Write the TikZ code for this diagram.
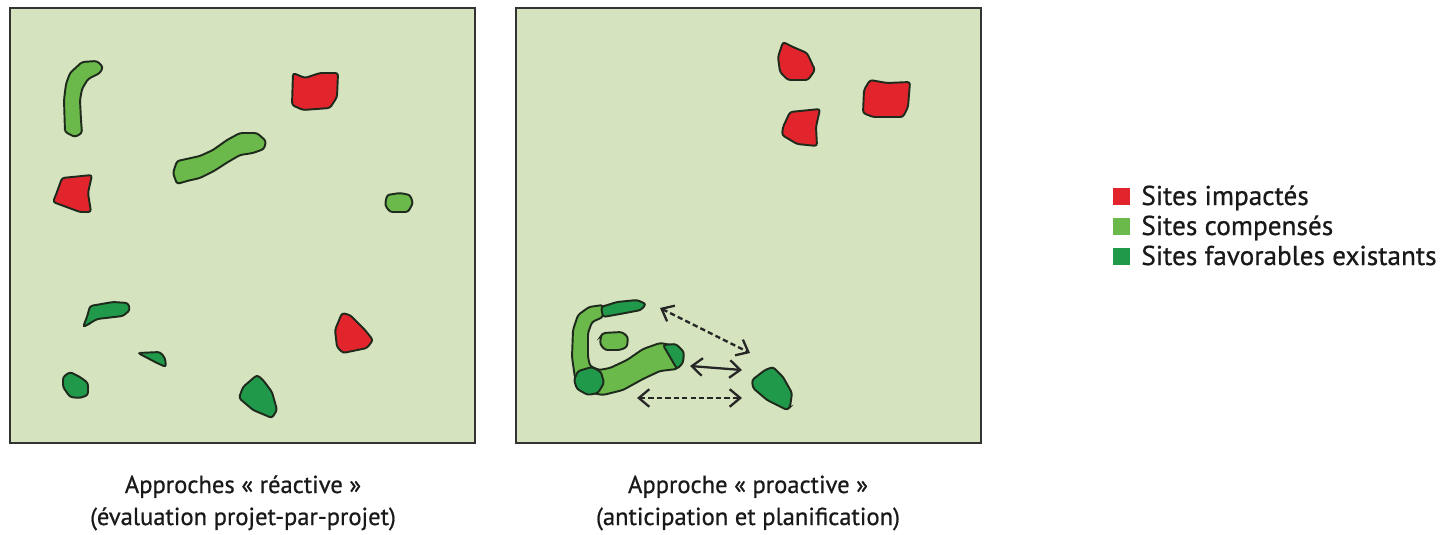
\documentclass[tikz,border=0pt]{standalone}
\usepackage{fontspec}
\setmainfont{PT Sans}
\newfontfamily\textefont{PT Sans}[FakeBold=0.7]
\usetikzlibrary{arrows.meta}

\definecolor{fond}{HTML}{D5E3BF}
\definecolor{rouge}{HTML}{E2252D}
\definecolor{vertclair}{HTML}{6CB94B}
\definecolor{vertfonce}{HTML}{21994A}
\definecolor{trait}{HTML}{1E2A1C}

\tikzset{
    panneau/.style={fill=fond, draw=black!80, line width=1.5pt},
    site/.style={draw=trait, line width=1.1pt, rounded corners=1.5pt},
    impact/.style={site, fill=rouge},
    compens/.style={site, fill=vertclair},
    favor/.style={site, fill=vertfonce},
    lien/.style={<->, >={Straight Barb[length=6pt,width=10pt]}, line width=1.3pt, black!85},
    legende/.style={anchor=base west, inner sep=0pt, font=\textefont\fontsize{15.5}{17}\selectfont, text=black!90},
    titre/.style={anchor=base, inner sep=0pt, font=\textefont\fontsize{14}{17}\selectfont, text=black!90},
}

\newcommand{\liens}{
    \coordinate (a1) at (660,308);
    \coordinate (b1) at (750,353);
    \coordinate (a2) at (690,366);
    \coordinate (b2) at (742,370);
    \coordinate (a3) at (637,398);
    \coordinate (b3) at (742,398);
}

\begin{document}
\begin{tikzpicture}[x=0.02cm, y=-0.02cm]
    \useasboundingbox (0,0) rectangle (1443,534);

    % approche reactive
    \draw[panneau] (10,8) rectangle (475,443);
    \draw[compens] (82,62) -- (97,61) -- (103,67) -- (100,73) -- (88,79) -- (82,89) -- (80,100) -- (81,120)
        -- (82,133) -- (75,137) -- (65,132) -- (64,100) -- (66,84) -- (70,73) -- cycle;
    \draw[impact]  (293,73) -- (305,78) -- (320,73) -- (338,73) -- (337,97) -- (330,108) -- (303,110) -- (292,105) -- cycle;
    \draw[compens] (177,161) -- (182,160) -- (200,156) -- (213,150) -- (227,140) -- (240,133) -- (257,133) -- (266,141)
        -- (264,149) -- (253,153) -- (240,155) -- (228,162) -- (214,171) -- (200,178) -- (187,181) -- (177,184) -- (173,173) -- cycle;
    \draw[impact]  (62,178) -- (92,175) -- (88,193) -- (91,212) -- (80,212) -- (53,202) -- (57,192) -- cycle;
    \draw[compens] (387,195) -- (400,193) -- (410,195) -- (413,203) -- (408,212) -- (390,212) -- (385,205) -- cycle;
    \draw[favor]   (90,306) -- (113,302) -- (128,303) -- (130,310) -- (123,316) -- (97,319) -- (87,325) -- (83,327) -- (87,317) -- cycle;
    \draw[impact]  (342,313) -- (350,315) -- (365,330) -- (373,340) -- (367,348) -- (343,353) -- (337,347) -- (335,330) -- cycle;
    \draw[favor]   (138,353) -- (160,352) -- (165,358) -- (166,367) -- (157,363) -- cycle;
    \draw[favor]   (70,372) -- (80,377) -- (88,383) -- (88,395) -- (80,398) -- (70,397) -- (63,387) -- (63,377) -- cycle;
    \draw[favor]   (257,375) -- (263,380) -- (272,392) -- (277,410) -- (272,418) -- (253,410) -- (239,398) -- (243,387) -- cycle;

    % approche proactive
    \draw[panneau] (516,8) rectangle (981,443);
    \draw[impact]  (783,42) -- (793,47) -- (807,53) -- (815,70) -- (808,80) -- (788,80) -- (780,72) -- (778,57) -- cycle;
    \draw[impact]  (870,80) -- (887,83) -- (910,82) -- (908,107) -- (903,117) -- (873,117) -- (863,113) -- (864,90) -- cycle;
    \draw[impact]  (790,112) -- (820,109) -- (816,127) -- (817,146) -- (797,144) -- (782,135) -- (783,127) -- cycle;

    \draw[compens] (603,305) -- (589,307) -- (578,315) -- (573,330) -- (572,357) -- (575,378) -- (587,392) -- (603,395)
        -- (623,390) -- (643,379) -- (660,371) -- (677,369) -- (684,358) -- (677,346) -- (660,343) -- (643,349)
        -- (627,360) -- (610,368) -- (599,370) -- (590,366) -- (588,357) -- (588,333) -- (592,322) -- (603,317) -- cycle;
    \draw[favor]   (601,307) -- (617,302) -- (637,300) -- (646,304) -- (641,310) -- (620,314) -- (603,317) -- cycle;
    \draw[favor]   (578,371) -- (592,367) -- (601,372) -- (604,383) -- (598,393) -- (588,395) -- (577,389) -- (574,380) -- cycle;
    \draw[favor]   (663,345) -- (676,344) -- (684,352) -- (683,363) -- (677,369) -- (670,357) -- cycle;
    \draw[compens] (603,333) -- (622,332) -- (628,337) -- (627,347) -- (620,350) -- (605,350) -- (600,344) -- (601,336) -- cycle;
    \draw[favor]   (752,380) -- (765,370) -- (773,367) -- (783,377) -- (792,393) -- (790,407) -- (787,410) -- (767,400) -- (753,388) -- cycle;

    \liens;
    \draw[lien, dash pattern=on 3pt off 1.8pt] (a1) -- (b1);
    \draw[lien] (a2) -- (b2);
    \draw[lien, dash pattern=on 3pt off 1.8pt] (a3) -- (b3);

    % titres
    \node[titre] (reac1) at (243,493) {Approches « réactive »};
    \node[titre] (reac2) at (243,525) {(évaluation projet-par-projet)};
    \node[titre] (proa1) at (748,493) {Approche « proactive »};
    \node[titre] (proa2) at (748,525) {(anticipation et planification)};

    % legende
    \fill[rouge]     (1113,188) rectangle (1130,205);
    \fill[vertclair] (1113,218) rectangle (1130,235);
    \fill[vertfonce] (1113,248) rectangle (1130,265);
    \node[legende] (leg1) at (1141,205) {Sites impactés};
    \node[legende] (leg2) at (1141,235) {Sites compensés};
    \node[legende] (leg3) at (1141,265) {Sites favorables existants};
\end{tikzpicture}
\end{document}
